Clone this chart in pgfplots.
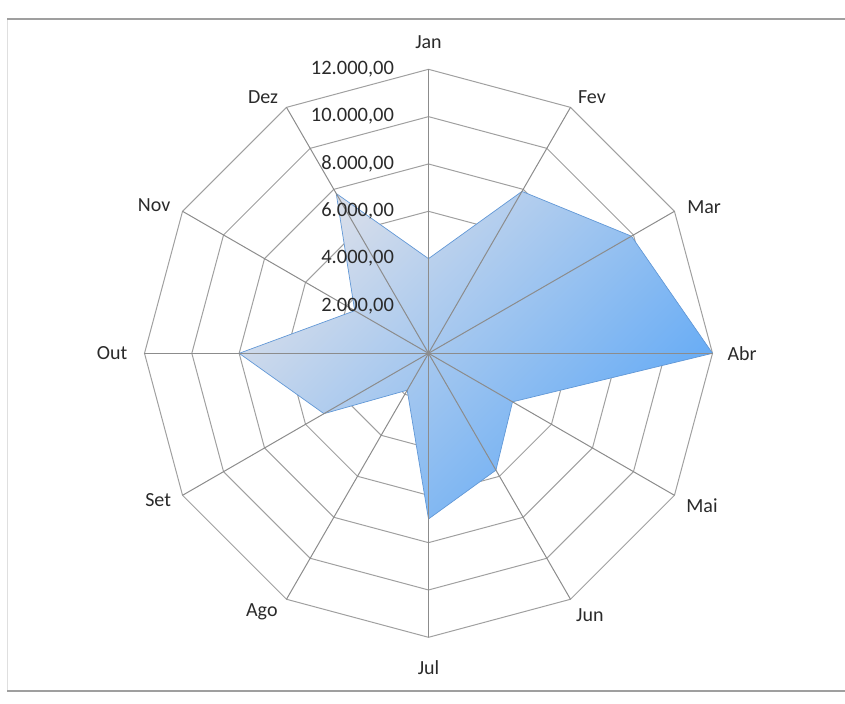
\documentclass[border=0pt]{standalone}
\usepackage{fontspec}
\setmainfont{Carlito}
\usepackage{pgfplots}
\pgfplotsset{compat=1.18}
\usepgfplotslibrary{polar}
\definecolor{gridc}{HTML}{A0A0A0}
\definecolor{spokec}{HTML}{8C8C8C}
\definecolor{lightfill}{HTML}{D8DEEA}
\definecolor{darkfill}{HTML}{5EA8F6}
\definecolor{edgec}{HTML}{6298D6}
\definecolor{txt}{HTML}{2A2A2A}
\tikzset{
  mlab/.style={text=txt, font=\fontsize{20bp}{22bp}\selectfont},
  vlab/.style={text=txt, anchor=east, xshift=-31bp, font=\fontsize{20.5bp}{22bp}\selectfont},
}
\begin{document}
\begin{tikzpicture}
\path[use as bounding box] (0,0) rectangle (845bp,-704bp);
\draw[gray!25, line width=1bp] (7bp,-19bp) -- (7bp,-691bp);
\draw[gray!75, line width=2.5bp] (7bp,-19bp) -- (845bp,-19bp);
\draw[gray!75, line width=2.5bp] (7bp,-691bp) -- (845bp,-691bp);
\begin{polaraxis}[
  at={(428.5bp,-353.3bp)}, anchor=center,
  scale only axis, width=568bp, height=568bp,
  ymin=0, ymax=12000, hide axis, clip=false,
]
% rings
\pgfplotsinvokeforeach{2000,4000,6000,8000,10000,12000}{
  \addplot[gridc, line width=1bp, no markers] coordinates {(0,#1)(30,#1)(60,#1)(90,#1)(120,#1)(150,#1)(180,#1)(210,#1)(240,#1)(270,#1)(300,#1)(330,#1)(360,#1)};
}
% data
\addplot[draw=edgec, line width=0.7bp, top color=lightfill, bottom color=darkfill, shading angle=45, no markers] coordinates {
(90,4000) (60,7900) (30,9900) (0,12000) (-30,4100) (-60,5700) (-90,7000) (-120,1800) (-150,5100) (-180,8000) (-210,3600) (-240,7800) (-270,4000)
};
% spokes
\pgfplotsinvokeforeach{0,30,60,90,120,150,180,210,240,270,300,330}{
  \addplot[spokec, line width=1bp, no markers] coordinates {(#1,0)(#1,12000)};
}
% month labels
\node[mlab] at (axis cs:90,13150) {Jan};
\node[mlab] at (axis cs:57.5,12850) {Fev};
\node[mlab] at (axis cs:28,13190) {Mar};
\node[mlab] at (axis cs:0,13250) {Abr};
\node[mlab] at (axis cs:-29.1,13225) {Mai};
\node[mlab] at (axis cs:-58.4,13010) {Jun};
\node[mlab] at (axis cs:-90,13300) {Jul};
\node[mlab] at (axis cs:-122.8,13000) {Ago};
\node[mlab] at (axis cs:-151.5,13000) {Set};
\node[mlab] at (axis cs:-180,13370) {Out};
\node[mlab] at (axis cs:-208.3,13170) {Nov};
\node[mlab] at (axis cs:-237.1,12870) {Dez};
% value labels
\node[vlab] at (axis cs:90,2000) {2.000,00};
\node[vlab] at (axis cs:90,4000) {4.000,00};
\node[vlab] at (axis cs:90,6000) {6.000,00};
\node[vlab] at (axis cs:90,8000) {8.000,00};
\node[vlab] at (axis cs:90,10000) {10.000,00};
\node[vlab] at (axis cs:90,12000) {12.000,00};
\end{polaraxis}
\end{tikzpicture}
\end{document}
